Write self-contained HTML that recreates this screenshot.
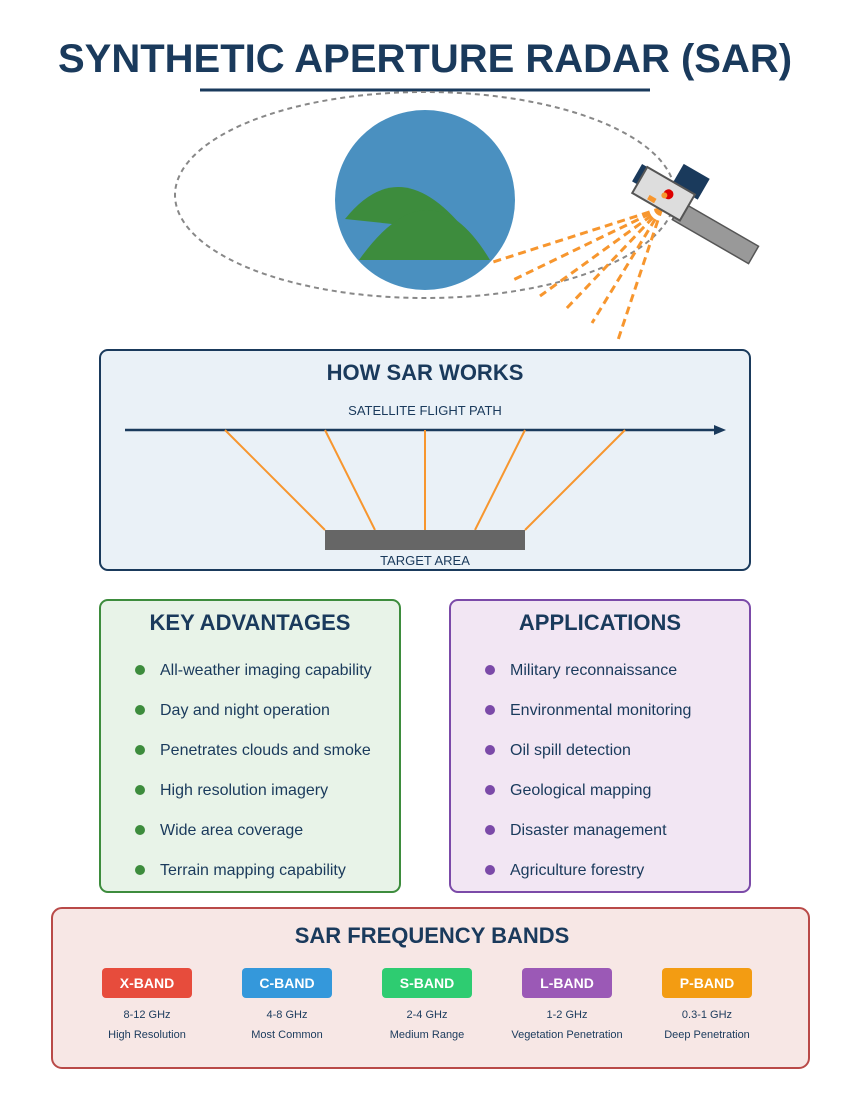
<!DOCTYPE html>
<html><head><meta charset="utf-8"><style>
body{margin:0;width:850px;height:1100px;background:#fff;font-family:"Liberation Sans",Arial,sans-serif;}
svg{display:block}
</style></head><body>
<svg width="850" height="1100" viewBox="0 0 850 1100" xmlns="http://www.w3.org/2000/svg" font-family="Liberation Sans, Arial, sans-serif">
<text x="425" y="72" text-anchor="middle" font-size="40" font-weight="bold" fill="#1a3a5c">SYNTHETIC APERTURE RADAR (SAR)</text>
<line x1="200" y1="90" x2="650" y2="90" stroke="#1a3a5c" stroke-width="3"/>
<ellipse cx="425" cy="195" rx="250" ry="103" fill="none" stroke="#888" stroke-width="2" stroke-dasharray="5,4"/>
<circle cx="425" cy="200" r="90" fill="#4a90c0"/>
<path d="M345 219 Q400 150 465 230 L392 224 Z" fill="#3d8c3d"/>
<path d="M359 260 Q430 160 490 260 Z" fill="#3d8c3d"/>
<g stroke="#f7962e" stroke-width="3" stroke-dasharray="8,5" fill="none">
<line x1="662" y1="208" x2="490" y2="263"/>
<line x1="662" y1="208" x2="513" y2="280"/>
<line x1="662" y1="208" x2="540" y2="296"/>
<line x1="662" y1="208" x2="565" y2="310"/>
<line x1="662" y1="208" x2="592" y2="323"/>
<line x1="662" y1="208" x2="618" y2="340"/>
</g>
<g transform="translate(664,194) rotate(30)">
<rect x="2" y="-36" width="30" height="24" fill="#1a3a5c"/>
<rect x="-34" y="-15" width="12" height="20" fill="#1a3a5c"/>
<rect x="20" y="-2" width="88" height="20" fill="#999" stroke="#555" stroke-width="1.5"/>
<rect x="-28" y="-15" width="55" height="30" fill="#ddd" stroke="#555" stroke-width="2"/>
<circle cx="4" cy="-2" r="5" fill="#d00"/>
<circle cx="1" cy="1" r="3" fill="#f7962e"/>
<rect x="-12" y="8" width="8" height="5" fill="#f7962e"/>
</g>
<rect x="100" y="350" width="650" height="220" rx="8" fill="#eaf1f7" stroke="#1a3a5c" stroke-width="2"/>
<text x="425" y="380" text-anchor="middle" font-size="22" font-weight="bold" fill="#1a3a5c">HOW SAR WORKS</text>
<text x="425" y="415" text-anchor="middle" font-size="13" fill="#1a3a5c">SATELLITE FLIGHT PATH</text>
<line x1="125" y1="430" x2="718" y2="430" stroke="#1a3a5c" stroke-width="2.5"/>
<polygon points="726,430 714,425 714,435" fill="#1a3a5c"/>
<g stroke="#f7962e" stroke-width="2">
<line x1="225" y1="430" x2="325" y2="530"/>
<line x1="325" y1="430" x2="375" y2="530"/>
<line x1="425" y1="430" x2="425" y2="530"/>
<line x1="525" y1="430" x2="475" y2="530"/>
<line x1="625" y1="430" x2="525" y2="530"/>
</g>
<rect x="325" y="530" width="200" height="20" fill="#666"/>
<text x="425" y="565" text-anchor="middle" font-size="13" fill="#1a3a5c">TARGET AREA</text>
<rect x="100" y="600" width="300" height="292" rx="8" fill="#e8f3e8" stroke="#3d8c3d" stroke-width="2"/>
<text x="250" y="630" text-anchor="middle" font-size="22" font-weight="bold" fill="#1a3a5c">KEY ADVANTAGES</text>
<g font-size="16" fill="#1a3a5c">
<circle cx="140" cy="670" r="5" fill="#3d8c3d"/><text x="160" y="675">All-weather imaging capability</text>
<circle cx="140" cy="710" r="5" fill="#3d8c3d"/><text x="160" y="715">Day and night operation</text>
<circle cx="140" cy="750" r="5" fill="#3d8c3d"/><text x="160" y="755">Penetrates clouds and smoke</text>
<circle cx="140" cy="790" r="5" fill="#3d8c3d"/><text x="160" y="795">High resolution imagery</text>
<circle cx="140" cy="830" r="5" fill="#3d8c3d"/><text x="160" y="835">Wide area coverage</text>
<circle cx="140" cy="870" r="5" fill="#3d8c3d"/><text x="160" y="875">Terrain mapping capability</text>
</g>
<rect x="450" y="600" width="300" height="292" rx="8" fill="#f2e6f3" stroke="#7b4aa8" stroke-width="2"/>
<text x="600" y="630" text-anchor="middle" font-size="22" font-weight="bold" fill="#1a3a5c">APPLICATIONS</text>
<g font-size="16" fill="#1a3a5c">
<circle cx="490" cy="670" r="5" fill="#7b4aa8"/><text x="510" y="675">Military reconnaissance</text>
<circle cx="490" cy="710" r="5" fill="#7b4aa8"/><text x="510" y="715">Environmental monitoring</text>
<circle cx="490" cy="750" r="5" fill="#7b4aa8"/><text x="510" y="755">Oil spill detection</text>
<circle cx="490" cy="790" r="5" fill="#7b4aa8"/><text x="510" y="795">Geological mapping</text>
<circle cx="490" cy="830" r="5" fill="#7b4aa8"/><text x="510" y="835">Disaster management</text>
<circle cx="490" cy="870" r="5" fill="#7b4aa8"/><text x="510" y="875">Agriculture forestry</text>
</g>
<rect x="52" y="908" width="757" height="160" rx="10" fill="#f7e7e5" stroke="#b94a48" stroke-width="2"/>
<text x="432" y="943" text-anchor="middle" font-size="22" font-weight="bold" fill="#1a3a5c">SAR FREQUENCY BANDS</text>
<g font-size="14" font-weight="bold" fill="#fff" text-anchor="middle">
<rect x="102" y="968" width="90" height="30" rx="4" fill="#e74c3c"/><text x="147" y="988">X-BAND</text>
<rect x="242" y="968" width="90" height="30" rx="4" fill="#3498db"/><text x="287" y="988">C-BAND</text>
<rect x="382" y="968" width="90" height="30" rx="4" fill="#2ecc71"/><text x="427" y="988">S-BAND</text>
<rect x="522" y="968" width="90" height="30" rx="4" fill="#9b59b6"/><text x="567" y="988">L-BAND</text>
<rect x="662" y="968" width="90" height="30" rx="4" fill="#f39c12"/><text x="707" y="988">P-BAND</text>
</g>
<g font-size="11" fill="#1a3a5c" text-anchor="middle">
<text x="147" y="1018">8-12 GHz</text><text x="147" y="1038">High Resolution</text>
<text x="287" y="1018">4-8 GHz</text><text x="287" y="1038">Most Common</text>
<text x="427" y="1018">2-4 GHz</text><text x="427" y="1038">Medium Range</text>
<text x="567" y="1018">1-2 GHz</text><text x="567" y="1038">Vegetation Penetration</text>
<text x="707" y="1018">0.3-1 GHz</text><text x="707" y="1038">Deep Penetration</text>
</g>
</svg>
</body></html>
